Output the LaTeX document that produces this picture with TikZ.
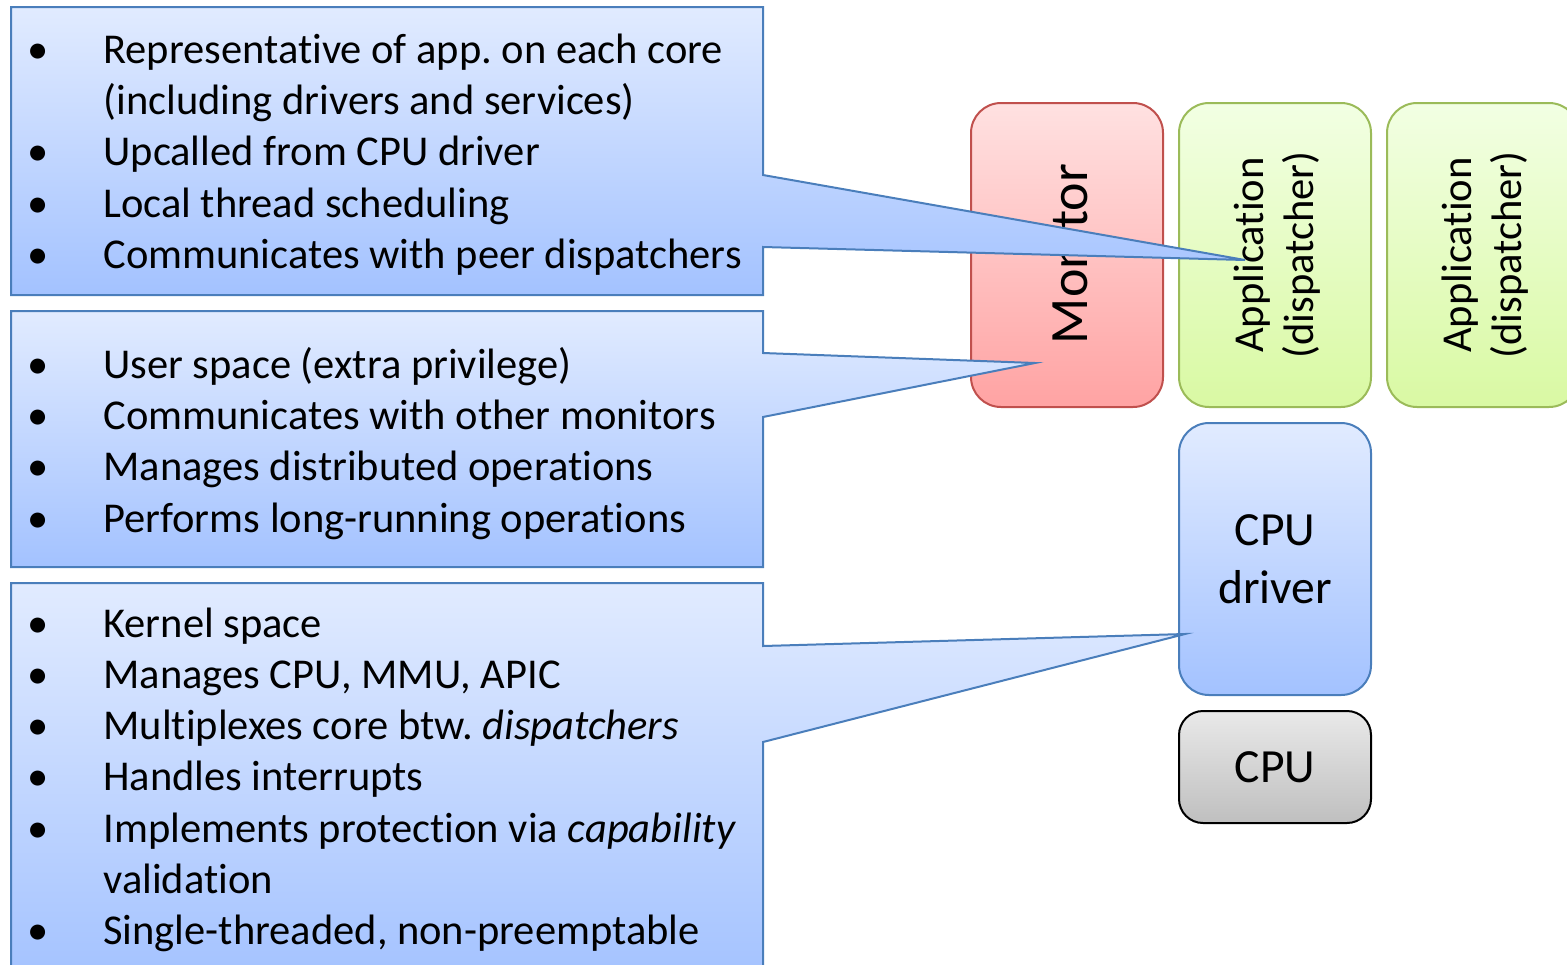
\documentclass[tikz,border=0pt]{standalone}
\usepackage{fontspec}
\setmainfont{Carlito}[Ligatures={NoCommon}]

\definecolor{cTop}{HTML}{E1EBFF}
\definecolor{cBot}{HTML}{A3C2FF}
\definecolor{cLine}{HTML}{4A7EBB}
\definecolor{mTop}{HTML}{FFE1E1}
\definecolor{mBot}{HTML}{FFA3A3}
\definecolor{mLine}{HTML}{C0504D}
\definecolor{aTop}{HTML}{F2FFE3}
\definecolor{aBot}{HTML}{D9F9A3}
\definecolor{aLine}{HTML}{9BBB59}
\definecolor{gTop}{HTML}{E9E9E9}
\definecolor{gBot}{HTML}{BFBFBF}

\newcommand{\itemfont}{\fontsize{21.25}{25.6}\selectfont}
\newcommand{\monfont}{\fontsize{27}{32}\selectfont}
\newcommand{\appfont}{\fontsize{21.3}{25}\selectfont}
\newcommand{\cpufont}{\fontsize{23.8}{28}\selectfont}

\tikzset{
  callout/.style={top color=cTop, bottom color=cBot, draw=cLine, line width=1pt, line join=miter},
  monbox/.style={top color=mTop, bottom color=mBot, draw=mLine, line width=1pt, rounded corners=15pt},
  appbox/.style={top color=aTop, bottom color=aBot, draw=aLine, line width=1pt, rounded corners=15pt},
  drvbox/.style={top color=cTop, bottom color=cBot, draw=cLine, line width=1pt, rounded corners=15pt},
  hwbox/.style={top color=gTop, bottom color=gBot, draw=black, line width=1pt, rounded corners=12pt},
  item/.style={anchor=base west, inner sep=0pt, font=\itemfont},
  dot/.style={anchor=base, inner sep=0pt, font=\itemfont},
  vlabel/.style={anchor=base, inner sep=0pt, rotate=90},
  hlabel/.style={anchor=base, inner sep=0pt, font=\cpufont},
}

\begin{document}
\begin{tikzpicture}[x=0.5pt, y=-0.5pt]
\clip (0,0) rectangle (1567,964);

% --- core components ---
\shade[monbox] (971,103) rectangle (1163,407);
\node[vlabel, font=\monfont] (monlbl) at (1087,254) {Monitor};

\shade[appbox] (1179,103) rectangle (1371,407);
\node[vlabel, font=\appfont] (app1a) at (1263,255) {Application};
\node[vlabel, font=\appfont] (app1b) at (1313,255) {(dispatcher)};

\shade[appbox] (1387,103) rectangle (1579,407);
\node[vlabel, font=\appfont] (app2a) at (1471,255) {Application};
\node[vlabel, font=\appfont] (app2b) at (1521,255) {(dispatcher)};

\shade[drvbox] (1179,423) rectangle (1371,695);
\node[hlabel] (drva) at (1275,545) {CPU};
\node[hlabel] (drvb) at (1275,603) {driver};

\shade[hwbox] (1179,711) rectangle (1371,823);
\node[hlabel] (cpu) at (1275,782) {CPU};

% --- pointer tips ---
\coordinate (tipA) at (1245,260);
\coordinate (tipM) at (1035,363);
\coordinate (tipD) at (1185,634);

% --- callout: dispatcher ---
\shade[callout] (11,7) -- (763,7) -- (763,175) -- (tipA) -- (763,247)
  -- (763,295) -- (11,295) -- cycle;
\node[dot] (d1) at (38,63) {•};
\node[item] (t1) at (103,63) {Representative of app.\ on each core};
\node[item] (t1b) at (103,114) {(including drivers and services)};
\node[dot] (d2) at (38,165) {•};
\node[item] (t2) at (103,165) {Upcalled from CPU driver};
\node[dot] (d3) at (38,217) {•};
\node[item] (t3) at (103,217) {Local thread scheduling};
\node[dot] (d4) at (38,268) {•};
\node[item] (t4) at (103,268) {Communicates with peer dispatchers};

% --- callout: monitor ---
\shade[callout] (11,311) -- (763,311) -- (763,353) -- (tipM) -- (763,417)
  -- (763,567) -- (11,567) -- cycle;
\node[dot] (m1) at (38,378) {•};
\node[item] (u1) at (103,378) {User space (extra privilege)};
\node[dot] (m2) at (38,429) {•};
\node[item] (u2) at (103,429) {Communicates with other monitors};
\node[dot] (m3) at (38,480) {•};
\node[item] (u3) at (103,480) {Manages distributed operations};
\node[dot] (m4) at (38,532) {•};
\node[item] (u4) at (103,532) {Performs long-running operations};

% --- callout: CPU driver ---
\shade[callout] (11,583) -- (763,583) -- (763,646) -- (tipD) -- (763,742)
  -- (763,985) -- (11,985) -- cycle;
\node[dot] (k1) at (38,637) {•};
\node[item] (v1) at (103,637) {Kernel space};
\node[dot] (k2) at (38,688) {•};
\node[item] (v2) at (103,688) {Manages CPU, MMU, APIC};
\node[dot] (k3) at (38,739) {•};
\node[item] (v3) at (103,739) {Multiplexes core btw.\ \textit{dispatchers}};
\node[dot] (k4) at (38,790) {•};
\node[item] (v4) at (103,790) {Handles interrupts};
\node[dot] (k5) at (38,842) {•};
\node[item] (v5) at (103,842) {Implements protection via \textit{capability}};
\node[item] (v5b) at (103,893) {validation};
\node[dot] (k6) at (38,944) {•};
\node[item] (v6) at (103,944) {Single-threaded, non-preemptable};
\end{tikzpicture}
\end{document}
